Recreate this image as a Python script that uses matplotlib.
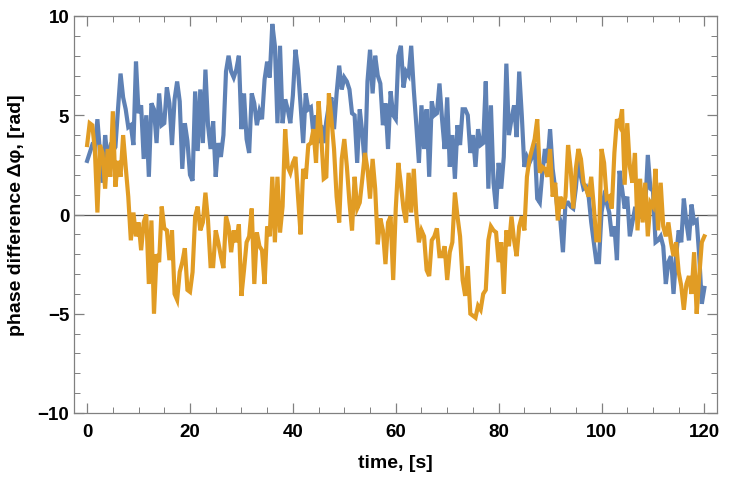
import numpy as np
import matplotlib
matplotlib.use("Agg")
import matplotlib.pyplot as plt
from matplotlib.ticker import MultipleLocator

# time axis, 0.5 s steps
t = np.arange(0, 120.5, 0.5)

blue = [
    2.7, 3.1, 3.5, 3.4, 4.8, 3.1, 1.6, 4.0, 2.8, 3.4, 3.2, 3.4, 5.3, 7.1, 5.9, 5.3, 4.4, 4.5, 3.5, 7.7,
    5.1, 5.5, 2.8, 5.0, 1.9, 5.6, 5.3, 3.6, 6.1, 4.5, 4.6, 6.4, 5.6, 3.5, 5.8, 6.7, 5.7, 2.3, 4.6, 3.7,
    2.0, 1.7, 6.2, 3.2, 6.3, 3.6, 7.3, 4.5, 3.3, 4.7, 1.9, 3.6, 2.9, 4.0, 7.2, 8.0, 7.2, 6.9, 7.3, 8.0,
    4.3, 6.1, 3.8, 3.1, 6.1, 5.6, 4.5, 5.2, 4.8, 6.8, 7.7, 6.9, 9.6, 8.5, 4.6, 8.5, 4.6, 5.8, 5.3, 4.6,
    6.0, 8.3, 7.3, 5.5, 3.6, 6.1, 5.3, 5.4, 4.0, 5.0, 3.6, 4.5, 3.6, 4.7, 5.5, 5.9, 4.3, 6.1, 7.5, 6.3,
    6.9, 6.7, 6.3, 5.1, 5.0, 2.6, 5.3, 4.1, 2.4, 6.7, 8.3, 6.1, 8.0, 7.0, 6.6, 4.5, 5.6, 3.3, 6.2, 5.0,
    4.8, 8.0, 8.5, 6.4, 7.2, 7.0, 8.5, 6.3, 4.5, 2.6, 5.5, 3.3, 5.3, 1.9, 5.7, 5.0, 5.1, 6.6, 4.8, 3.3,
    5.9, 2.4, 4.0, 1.8, 4.5, 3.5, 5.3, 5.3, 5.0, 3.1, 4.0, 2.4, 4.3, 3.5, 3.6, 6.7, 1.3, 5.5, 1.6, 0.3,
    2.6, 1.3, 2.9, 7.6, 4.0, 4.8, 5.5, 3.9, 7.2, 5.0, 2.4, 2.9, 2.6, 2.9, 3.6, 0.8, 0.6, 2.1, 3.3, 2.6,
    4.3, 2.3, 1.3, 0.1, -0.3, -1.9, 0.6, 0.6, 0.4, 0.3, 1.3, 2.8, 1.9, 1.3, 1.4, 0.9, -0.4, -1.4, -2.4, -2.4,
    0.1, 0.9, 0.6, 0.1, -1.1, -0.6, -2.3, 2.2, 1.3, 0.3, 0.9, -1.1, -0.4, 0.3, 0.3, -0.1, 0.0, 0.4, 3.0, 1.3,
    1.2, -1.4, -1.3, -1.1, -1.6, -3.5, -2.4, -2.1, -4.0, -2.1, -0.8, -1.4, 0.8, -0.4, -1.3, 0.5, -0.4, -0.3, -2.1, -4.5,
    -3.7,
]

orange = [
    3.5, 4.6, 4.5, 3.3, 0.1, 3.5, 3.1, 1.3, 3.3, 1.9, 5.2, 1.4, 2.7, 1.9, 4.0, 2.4, 0.9, -1.3, 0.1, -1.1,
    -0.4, -1.8, -0.4, 0.0, -3.5, -0.3, -5.0, -2.0, -2.4, 0.4, -0.7, -0.8, -2.3, -0.8, -4.0, -4.3, -2.9, -2.4, -1.7, -3.8,
    -3.9, -2.9, -0.1, 0.4, -0.8, -0.4, 1.1, -0.3, -2.6, -2.6, -0.8, -1.4, -2.1, -2.7, -0.1, -0.6, -1.9, -0.8, -1.4, -0.5,
    -4.1, -2.8, -1.4, -1.1, 0.3, -3.5, -0.9, -1.6, -1.8, -3.5, -0.6, -1.1, 1.9, -1.4, 1.9, -0.9, 0.4, 4.3, 2.4, 2.1,
    2.6, 2.9, 0.9, -1.0, 2.3, 1.8, 3.5, 3.6, 4.3, 2.6, 5.7, 4.0, 1.8, 1.9, 6.1, 4.8, 3.3, 0.9, -0.4, 2.8,
    3.8, 2.4, 0.6, -0.8, 1.9, 0.3, 0.6, 1.8, 3.1, 2.3, 0.8, 2.8, 1.3, -1.5, -0.2, -0.8, -2.5, -0.4, -0.1, -3.3,
    0.3, 2.6, 1.5, 0.3, -0.4, 2.1, 0.1, 2.3, 0.0, -1.4, -0.8, -1.1, -2.8, -3.1, -1.3, -1.1, -0.7, -2.1, -2.1, -1.6,
    -3.3, -1.9, -1.4, 1.1, -0.1, -1.1, -3.3, -4.1, -2.6, -5.0, -5.1, -5.2, -4.6, -4.8, -4.0, -3.8, -1.3, -0.6, -0.8, -0.9,
    -2.4, -1.4, -4.0, -0.8, -1.6, -0.1, -1.3, -2.1, -0.6, -0.1, -0.8, 1.9, 2.8, 3.3, 3.8, 4.8, 2.1, 2.4, 2.3, 1.9,
    3.3, 0.9, 1.6, -0.3, 0.9, 0.3, 0.9, 3.5, 2.3, 0.3, 2.3, 3.3, 2.8, 1.6, 1.3, 0.9, 1.9, 0.4, -1.3, -1.3,
    3.3, 2.6, 0.8, 0.9, 0.3, 3.1, 4.8, 4.5, 5.3, 1.5, 4.6, 2.4, 1.6, 3.1, -0.8, 1.8, -0.4, 1.6, -1.1, 0.6,
    0.4, 2.3, -0.8, 1.6, -0.6, -1.1, -0.4, -1.4, -2.1, -1.4, -2.9, -3.6, -4.8, -3.5, -3.1, -4.0, -1.9, -5.0, -3.1, -1.4,
    -1.1,
]

BLUE = "#5e81b5"
ORANGE = "#e19c24"
FRAME = "#808080"

plt.rcParams["font.family"] = ["Liberation Sans", "DejaVu Sans"]

fig = plt.figure(figsize=(7.29, 4.81), dpi=100)
ax = fig.add_axes([74 / 729, 67 / 481, 643 / 729, 397 / 481])

ax.axhline(0, color="#555555", lw=0.9, zorder=1)
ax.plot(t, blue, color=BLUE, lw=3.0, zorder=2, solid_joinstyle="miter")
ax.plot(t, orange, color=ORANGE, lw=3.0, zorder=3, solid_joinstyle="miter")

ax.set_xlim(-2.55, 122.45)
ax.set_ylim(-10, 10)

ax.xaxis.set_major_locator(MultipleLocator(20))
ax.xaxis.set_minor_locator(MultipleLocator(5))
ax.yaxis.set_major_locator(MultipleLocator(5))
ax.yaxis.set_minor_locator(MultipleLocator(1))

ax.tick_params(which="both", direction="in", top=True, right=True, color=FRAME,
               labelsize=13.5, labelcolor="black")
ax.tick_params(which="major", length=7, width=0.9)
ax.tick_params(which="minor", length=4, width=0.7)
ax.tick_params(axis="x", pad=7)
for lbl in ax.get_xticklabels() + ax.get_yticklabels():
    lbl.set_fontweight("bold")
ax.set_yticklabels(["\u221210" if v == -10 else ("\u22125" if v == -5 else f"{v:g}")
                    for v in ax.get_yticks()], fontweight="bold")

for s in ax.spines.values():
    s.set_color(FRAME)
    s.set_linewidth(0.9)

ax.set_xlabel("time, [s]", fontsize=14, fontweight="bold", labelpad=10)
ax.set_ylabel("phase difference \u0394\u03c6, [rad]", fontsize=14, fontweight="bold", labelpad=9)

fig.savefig("out.png", dpi=100)
